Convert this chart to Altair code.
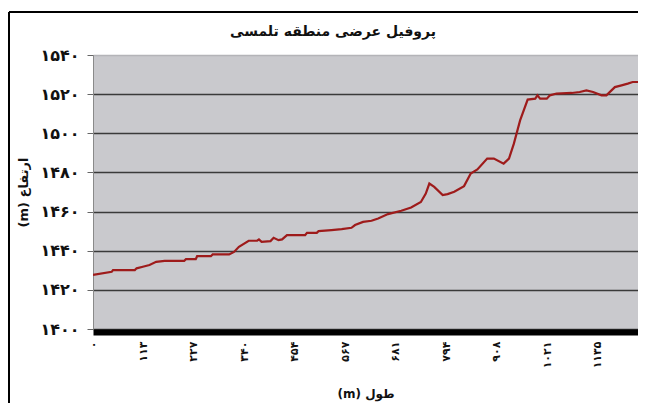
import altair as alt
import pandas as pd

# Profile data: distance (m) and elevation (m)
distance = [0, 42, 45, 94, 98, 112, 127, 142, 161, 205, 209, 231, 234, 265, 269, 306,
            317, 328, 350, 369, 373, 379, 399, 406, 417, 425, 436, 477, 481, 503, 507,
            536, 559, 581, 589, 607, 626, 641, 663, 693, 715, 737, 748, 756, 767, 786,
            797, 812, 834, 849, 864, 886, 901, 923, 935, 946, 960, 977, 994, 999, 1005,
            1020, 1027, 1042, 1076, 1094, 1109, 1124, 1143, 1154, 1173, 1188, 1202, 1213, 1225]
elevation = [1427.6, 1429.2, 1430.1, 1430.1, 1431.0, 1431.8, 1432.7, 1434.3, 1434.8, 1434.8,
             1435.7, 1435.7, 1437.2, 1437.2, 1438.1, 1438.1, 1439.4, 1442.0, 1445.1, 1445.1,
             1445.8, 1444.5, 1444.9, 1446.6, 1445.4, 1445.8, 1448.0, 1448.0, 1449.1, 1449.1,
             1450.0, 1450.5, 1451.0, 1451.7, 1453.1, 1454.7, 1455.3, 1456.5, 1458.7, 1460.4,
             1462.1, 1464.9, 1469.2, 1474.3, 1472.6, 1468.4, 1468.9, 1470.1, 1473.0, 1479.4,
             1481.5, 1487.1, 1487.1, 1484.5, 1487.1, 1494.7, 1506.6, 1517.2, 1517.7, 1519.4,
             1517.7, 1517.7, 1519.4, 1520.3, 1520.6, 1521.1, 1521.9, 1521.1, 1519.4, 1519.4,
             1523.6, 1524.5, 1525.4, 1526.2, 1526.2]

y_ticks = [1400, 1420, 1440, 1460, 1480, 1500, 1520, 1540]
x_ticks = [0, 113, 227, 340, 454, 567, 681, 794, 908, 1021, 1135]

title_text = "پروفیل عرضی منطقه تلمسی"
x_title = "(m) طول"
y_title = "(m) ارتفاع"

FA = str.maketrans("0123456789", "۰۱۲۳۴۵۶۷۸۹")


def label_expr(vals):
    expr = "''"
    for v in reversed(vals):
        expr = f"datum.value == {v} ? '{str(v).translate(FA)}' : ({expr})"
    return expr


FONT = "DejaVu Sans"

df = pd.DataFrame({"d": distance, "e": elevation})
one = pd.DataFrame({"k": [0]})

line = alt.Chart(df).mark_line(color="#9E1B1B", strokeWidth=2.2, clip=True).encode(
    x=alt.X("d:Q",
            scale=alt.Scale(domain=[0, 1225], nice=False, zero=False),
            axis=alt.Axis(values=x_ticks, labelExpr=label_expr(x_ticks), labelAngle=270,
                          tickSize=0, labelPadding=9, domainColor="black", domainWidth=6,
                          offset=3, grid=False, title=x_title, titlePadding=21,
                          labelFont=FONT, labelFontSize=11, labelFontWeight="bold",
                          labelColor="#111", titleFont=FONT, titleFontSize=12,
                          titleFontWeight="bold", titleColor="#111")),
    y=alt.Y("e:Q",
            scale=alt.Scale(domain=[1400, 1540], nice=False, zero=False),
            axis=alt.Axis(values=y_ticks, labelExpr=label_expr(y_ticks), tickSize=6,
                          tickColor="#666", labelPadding=8, domainColor="#8a8a8a",
                          grid=True,
                          gridColor={"condition": {"test": "datum.value >= 1540", "value": "#b4b4b8"},
                                     "value": "#3a3a3a"},
                          gridWidth=1.3, title=y_title, titlePadding=9,
                          labelFont=FONT, labelFontSize=16, labelFontWeight="bold",
                          labelColor="#111", titleFont=FONT, titleFontSize=13,
                          titleFontWeight="bold", titleColor="#111")),
)

border_left = alt.Chart(one).mark_rule(color="black", strokeWidth=2).encode(
    x=alt.value(-84), x2=alt.value(-84), y=alt.value(-43), y2=alt.value(360))
border_top = alt.Chart(one).mark_rule(color="black", strokeWidth=2).encode(
    x=alt.value(-84), x2=alt.value(545), y=alt.value(-43), y2=alt.value(-43))
title = alt.Chart(one).mark_text(text=title_text, font=FONT, fontSize=14, fontWeight="bold",
                                 color="#111", align="center", baseline="middle").encode(
    x=alt.value(240), y=alt.value(-23))

chart = alt.layer(border_left, border_top, title, line).properties(
    width=545, height=274,
    autosize=alt.AutoSizeParams(type="none"),
    padding={"left": 85, "top": 47, "right": 0, "bottom": 74},
).configure(background="white").configure_view(fill="#C9C9CD", stroke="#a8a8ac", strokeWidth=1)

chart.save("out.html", embed_options={"renderer": "svg", "actions": False})
